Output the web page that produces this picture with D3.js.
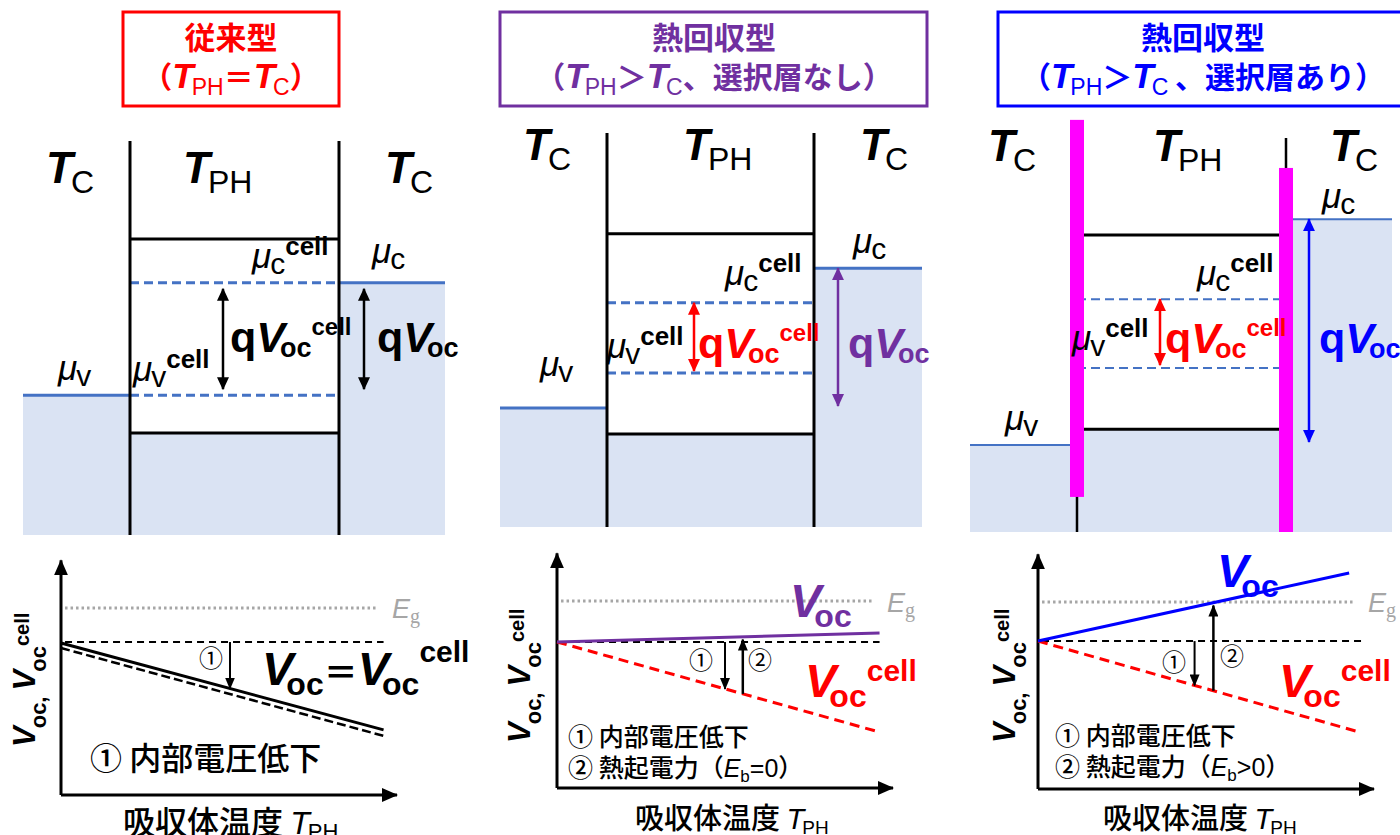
<!DOCTYPE html>
<html>
<head>
<meta charset="utf-8">
<script src="https://cdn.jsdelivr.net/npm/d3@7"></script>
<style>
  body { margin: 0; background: #fff; }
  svg { display: block; }
</style>
</head>
<body>
<div class="Diagram"></div>
<script>
/* Data */
// one entry per panel: conventional, heat recovery w/o filter, heat recovery with filter
const panelColors = ["#ff0000", "#7030a0", "#0000ff"];
const titleLine1 = ["従来型", "熱回収型", "熱回収型"];
const titleRel = ["＝", "＞", "＞"];
const titleTail = ["）", "、選択層なし）", " 、選択層あり）"];

// band diagram energies (0 = frame bottom, 100 = top of the walls)
const cbLevel = [75.1, 74.4, 75.4];
const vbLevel = [25.9, 23.6, 26.1];
const muCcell = [64.0, 56.9, 59.1];
const muVcell = [35.5, 39.1, 41.6];
const muC = [64.0, 65.7, 79.4];
const muV = [35.5, 30.2, 22.1];
// selective layers (panel 3) [bottom, top]
const filterLeft = [8.9, 104.6];
const filterRight = [0, 92.4];

// Voc vs absorber temperature (T: 0..1, voltage in units of Eg)
const egLevel = 1.0;
const egEndT = 0.94;
const baseLevel = [0.818, 0.781, 0.791];
const baseEndT = [0.96, 0.96, 0.964];
const vocStart = [0.813, 0.781, 0.791];
const vocEnd = [0.348, 0.829, 1.155];
const vocEndT = [0.96, 0.96, 0.926];
const vocCellStart = [0.786, 0.781, 0.791];
const vocCellEnd = [0.316, 0.299, 0.305];
const vocCellEndT = [0.96, 0.96, 0.955];
const arrow1T = [0.503, 0.50, 0.466];
const arrow2T = [null, 0.553, 0.522];

/* Setup */
const LATIN = "'Liberation Sans', Arial, sans-serif";
const CJK = "'Noto Sans CJK JP', sans-serif";
const SERIF = "'Liberation Serif', serif";
const width = 1400, height = 835;

const svg = d3.select(".Diagram")
    .append("svg")
    .attr("width", width)
    .attr("height", height);

const defs = svg.append("defs");
function marker(id, color, len, wid) {
    defs.append("marker")
        .attr("id", id)
        .attr("markerUnits", "userSpaceOnUse")
        .attr("viewBox", `0 0 ${len} ${wid}`)
        .attr("markerWidth", len)
        .attr("markerHeight", wid)
        .attr("refX", len - 1)
        .attr("refY", wid / 2)
        .attr("orient", "auto-start-reverse")
        .append("path")
        .attr("d", `M0,0L${len},${wid / 2}L0,${wid}Z`)
        .attr("fill", color);
}
marker("axisHead", "#000", 16, 14);
marker("smallHead", "#000", 12, 10);
const headColors = ["#000", "#ff0000", "#7030a0", "#0000ff"];
headColors.forEach((c, i) => marker("bandHead" + i, c, 13, 12));
const headId = c => "bandHead" + headColors.indexOf(c);

// text made of runs (sub/superscripts via baseline shifts)
function rich(x, y, runs, o = {}) {
    const t = svg.append("text")
        .attr("x", x)
        .attr("y", y)
        .attr("text-anchor", o.anchor || "start")
        .attr("fill", o.fill || "#000")
        .style("font-family", LATIN);
    if (o.rotate) t.attr("transform", `rotate(-90,${x},${y})`);
    let shift = 0;
    runs.filter(r => r).forEach(r => {
        const s = t.append("tspan").text(r.t).style("font-size", r.fs + "px");
        const sh = r.sh || 0;
        if (sh !== shift) s.attr("dy", sh - shift);
        shift = sh;
        if (r.dx) s.attr("dx", r.dx);
        if (r.i) s.style("font-style", "italic");
        if (r.b) s.style("font-weight", r.b === true ? "bold" : r.b);
        if (r.ff) s.style("font-family", r.ff);
        if (r.f) s.attr("fill", r.f);
    });
    return t;
}

/* Titles */
const titleBoxes = [
    { x: 123, w: 216, cx: 231 },
    { x: 500, w: 427, cx: 714 },
    { x: 998, w: 410, cx: 1203 }
];
titleBoxes.forEach((b, i) => {
    const c = panelColors[i];
    svg.append("rect")
        .attr("x", b.x).attr("y", 12)
        .attr("width", b.w).attr("height", 94)
        .attr("fill", "none")
        .attr("stroke", c)
        .attr("stroke-width", 3);
    rich(b.cx, 49, [{ t: titleLine1[i], fs: 31, b: true, ff: CJK }], { anchor: "middle", fill: c });
    rich(b.cx, 88, [
        { t: "（", fs: 30, b: true, ff: CJK },
        { t: "T", fs: 35, b: true, i: true },
        { t: "PH", fs: 23, sh: 7, dx: -2 },
        { t: titleRel[i], fs: 30, b: true, ff: CJK },
        { t: "T", fs: 35, b: true, i: true },
        { t: "C", fs: 23, sh: 7, dx: -2 },
        { t: titleTail[i], fs: 30, b: true, ff: CJK }
    ], { anchor: "middle", fill: c });
});

/* Band diagrams */
const bandLayout = [
    { xL: 23, w1: 130, w2: 339, xR: 445, bottom: 535 },
    { xL: 500, w1: 607, w2: 814, xR: 922, bottom: 527 },
    { xL: 970, w1: 1077, w2: 1286, xR: 1392, bottom: 532 }
];
const arrowColors = [["#000", "#000"], ["#ff0000", "#7030a0"], ["#ff0000", "#0000ff"]];
const arrowX = [[223, 364], [694, 838], [1160, 1309]];
const arrowPad = [[6, 6], [0, 2], [0, 3]];
const levelBlue = "#4472c4";
const fillBlue = "#dae3f3";

bandLayout.forEach((L, i) => {
    const y = d3.scaleLinear().domain([0, 100]).range([L.bottom, L.bottom - 394]);
    const g = svg.append("g");

    // shaded (occupied) regions
    const regions = [
        [L.xL, L.w1, muV[i]],
        [L.w1, L.w2, vbLevel[i]],
        [L.w2, L.xR, muC[i]]
    ];
    g.selectAll("rect.fill")
        .data(regions)
        .enter()
        .append("rect")
        .attr("x", d => d[0])
        .attr("y", d => y(d[2]))
        .attr("width", d => d[1] - d[0])
        .attr("height", d => y(0) - y(d[2]))
        .attr("fill", fillBlue);

    // band edges of the absorber
    [cbLevel[i], vbLevel[i]].forEach(v => {
        g.append("line")
            .attr("x1", L.w1).attr("x2", L.w2)
            .attr("y1", y(v)).attr("y2", y(v))
            .attr("stroke", "#000").attr("stroke-width", 3);
    });

    // quasi Fermi levels
    const lw = i === 2 ? 2 : 3;
    [muCcell[i], muVcell[i]].forEach(v => {
        g.append("line")
            .attr("x1", L.w1).attr("x2", L.w2)
            .attr("y1", y(v)).attr("y2", y(v))
            .attr("stroke", levelBlue).attr("stroke-width", lw)
            .attr("stroke-dasharray", "9,5");
    });
    g.append("line")
        .attr("x1", L.xL).attr("x2", L.w1)
        .attr("y1", y(muV[i])).attr("y2", y(muV[i]))
        .attr("stroke", levelBlue).attr("stroke-width", lw);
    g.append("line")
        .attr("x1", L.w2).attr("x2", L.xR)
        .attr("y1", y(muC[i])).attr("y2", y(muC[i]))
        .attr("stroke", levelBlue).attr("stroke-width", lw);

    // walls
    [L.w1, L.w2].forEach(x => {
        g.append("line")
            .attr("x1", x).attr("x2", x)
            .attr("y1", y(100)).attr("y2", y(0))
            .attr("stroke", "#000").attr("stroke-width", i === 2 ? 2.5 : 3);
    });
    if (i === 2) {
        [[L.w1, filterLeft], [L.w2, filterRight]].forEach(([x, f]) => {
            g.append("rect")
                .attr("x", x - 7).attr("width", 14)
                .attr("y", y(f[1]))
                .attr("height", y(f[0]) - y(f[1]))
                .attr("fill", "#ff00ff");
        });
    }

    // qVoc arrows
    const spans = [[muCcell[i], muVcell[i]], [muC[i], muV[i]]];
    spans.forEach((s, k) => {
        const c = arrowColors[i][k];
        g.append("line")
            .attr("x1", arrowX[i][k]).attr("x2", arrowX[i][k])
            .attr("y1", y(s[0]) + arrowPad[i][0])
            .attr("y2", y(s[1]) - arrowPad[i][1])
            .attr("stroke", c).attr("stroke-width", 2.5)
            .attr("marker-start", `url(#${headId(c)})`)
            .attr("marker-end", `url(#${headId(c)})`);
    });
});

// temperature labels
function tLabel(x, y, sub, fs) {
    rich(x, y, [
        { t: "T", fs: fs, i: true, b: true },
        { t: sub, fs: fs - 12, sh: 10, dx: -2 }
    ]);
}
[[46, 183, 385, 183], [523, 683, 860, 160], [988, 1153, 1330, 161]].forEach(p => {
    tLabel(p[0], p[3], "C", 44);
    tLabel(p[1], p[3], "PH", 44);
    tLabel(p[2], p[3], "C", 44);
});

// chemical potential labels
function muLabel(x, y, sub, cell) {
    rich(x, y, [
        { t: "μ", fs: 35, i: true },
        { t: sub, fs: 30, sh: 6, dx: -1 },
        cell ? { t: "cell", fs: 26, b: true, sh: -13 } : null
    ]);
}
[
    [252, 268, "c", true], [133, 381, "v", true], [372, 263, "c", false], [58, 380, "v", false],
    [725, 285, "c", true], [607, 358, "v", true], [853, 253, "c", false], [540, 376, "v", false],
    [1197, 285, "c", true], [1072, 350, "v", true], [1322, 208, "c", false], [1005, 430, "v", false]
].forEach(d => muLabel(d[0], d[1], d[2], d[3]));

// qVoc labels
function qvLabel(x, y, color, cell) {
    rich(x, y, [
        { t: "q", fs: 43, b: true },
        { t: "V", fs: 43, b: true, i: true },
        { t: "oc", fs: 27, b: true, sh: 5, dx: -5 },
        cell ? { t: "cell", fs: 24, b: true, sh: -17 } : null
    ], { fill: color });
}
qvLabel(230, 352, "#000", true);
qvLabel(377, 352, "#000", false);
qvLabel(698, 358, "#ff0000", true);
qvLabel(848, 358, "#7030a0", false);
qvLabel(1165, 353, "#ff0000", true);
qvLabel(1319, 353, "#0000ff", false);

/* Voc vs temperature graphs */
const graphLayout = [
    { x0: 61, y0: 795 },
    { x0: 557, y0: 788 },
    { x0: 1038, y0: 789 }
];
const vocColors = ["#000", "#7030a0", "#0000ff"];
const vocCellColors = ["#000", "#ff0000", "#ff0000"];

graphLayout.forEach((G, i) => {
    const x = d3.scaleLinear().domain([0, 1]).range([G.x0, G.x0 + 336]);
    const y = d3.scaleLinear().domain([0, 1]).range([G.y0, G.y0 - 187]);
    const g = svg.append("g");
    const lineGen = d3.line().x(d => x(d[0])).y(d => y(d[1]));

    // axes with arrow heads
    g.append("path")
        .attr("d", lineGen([[0, 0], [0, 1.255]]))
        .attr("stroke", "#000").attr("stroke-width", 3)
        .attr("marker-end", "url(#axisHead)");
    g.append("path")
        .attr("d", lineGen([[0, 0], [1, 0]]))
        .attr("stroke", "#000").attr("stroke-width", 3)
        .attr("marker-end", "url(#axisHead)");

    // Eg
    g.append("path")
        .attr("d", lineGen([[0.012, egLevel], [egEndT, egLevel]]))
        .attr("stroke", "#a6a6a6").attr("stroke-width", 3)
        .attr("stroke-dasharray", "2.5,3");
    // reference level at low temperature
    g.append("path")
        .attr("d", lineGen([[0.012, baseLevel[i]], [baseEndT[i], baseLevel[i]]]))
        .attr("stroke", "#000").attr("stroke-width", 2)
        .attr("stroke-dasharray", "7,5");

    // Voc cell
    g.append("path")
        .attr("d", lineGen([[0, vocCellStart[i]], [vocCellEndT[i], vocCellEnd[i]]]))
        .attr("stroke", vocCellColors[i]).attr("stroke-width", i === 0 ? 2.5 : 3)
        .attr("stroke-dasharray", i === 0 ? "9,4" : "10,6");
    // Voc
    g.append("path")
        .attr("d", lineGen([[0, vocStart[i]], [vocEndT[i], vocEnd[i]]]))
        .attr("stroke", vocColors[i]).attr("stroke-width", 3);

    // arrows 1 and 2
    const at = (v0, v1, tE, t) => v0 + (v1 - v0) * t / tE;
    const lowLine = i === 0
        ? t => at(vocStart[i], vocEnd[i], vocEndT[i], t)
        : t => at(vocCellStart[i], vocCellEnd[i], vocCellEndT[i], t);
    const t1 = arrow1T[i];
    g.append("path")
        .attr("d", lineGen([[t1, baseLevel[i]], [t1, lowLine(t1)]]))
        .attr("stroke", "#000").attr("stroke-width", 2)
        .attr("marker-end", "url(#smallHead)");
    if (arrow2T[i] !== null) {
        const t2 = arrow2T[i];
        g.append("path")
            .attr("d", lineGen([[t2, lowLine(t2)], [t2, at(vocStart[i], vocEnd[i], vocEndT[i], t2) - 0.015]]))
            .attr("stroke", "#000").attr("stroke-width", 2.5)
            .attr("marker-end", "url(#smallHead)");
    }
});

// circled numbers
[[211, 667, "①"], [701, 669, "①"], [760, 669, "②"], [1174, 671, "①"], [1232, 665, "②"]].forEach(d => {
    rich(d[0], d[1], [{ t: d[2], fs: 24, ff: CJK }], { anchor: "middle" });
});

// Eg labels
[[392, 618], [887, 612], [1368, 612]].forEach(d => {
    rich(d[0], d[1], [
        { t: "E", fs: 27, i: true, b: 500 },
        { t: "g", fs: 20, sh: 5, ff: SERIF }
    ], { fill: "#a6a6a6" });
});

// y axis labels (rotated)
[[35, 747], [530, 743], [1015, 743]].forEach(d => {
    rich(d[0], d[1], [
        { t: "V", fs: 31, b: true, i: true },
        { t: "oc", fs: 22, b: true, sh: 11, dx: -2 },
        { t: ",  ", fs: 22, b: true, sh: 11 },
        { t: "V", fs: 31, b: true, i: true },
        { t: "oc", fs: 22, b: true, sh: 11, dx: -2 },
        { t: "cell", fs: 20, b: true, sh: -6 }
    ], { rotate: true });
});

// Voc labels
function vLabel(x, y, color, cell, cellShift) {
    rich(x, y, [
        { t: "V", fs: 47, b: true, i: true },
        { t: "oc", fs: 32, b: true, sh: 10, dx: -7 },
        cell ? { t: "cell", fs: 30, b: true, sh: cellShift } : null
    ], { fill: color });
}
rich(262, 685, [
    { t: "V", fs: 47, b: true, i: true },
    { t: "oc", fs: 32, b: true, sh: 10, dx: -7 },
    { t: "＝", fs: 34, b: true, ff: CJK },
    { t: "V", fs: 47, b: true, i: true },
    { t: "oc", fs: 32, b: true, sh: 10, dx: -7 },
    { t: "cell", fs: 30, b: true, sh: -23 }
]);
vLabel(790, 617, "#7030a0", false);
vLabel(805, 697, "#ff0000", true, -16);
vLabel(1217, 587, "#0000ff", false);
vLabel(1279, 697, "#ff0000", true, -16);

// legends
rich(90, 770, [{ t: "① 内部電圧低下", fs: 32, ff: CJK, b: 500 }]);
[[568, 746, "="], [1055, 745, ">"]].forEach(d => {
    rich(d[0], d[1], [{ t: "① 内部電圧低下", fs: 25, ff: CJK, b: 500 }]);
    rich(d[0], d[1] + 31, [
        { t: "② 熱起電力（", fs: 25, ff: CJK, b: 500 },
        { t: "E", fs: 25, i: true },
        { t: "b", fs: 17, sh: 5 },
        { t: d[2] + "0", fs: 25, sh: 0 },
        { t: "）", fs: 25, ff: CJK, b: 500 }
    ]);
});

// x axis labels
[[123, 834, 32], [635, 829, 29], [1103, 829, 29]].forEach(d => {
    rich(d[0], d[1], [
        { t: "吸収体温度 ", fs: d[2], ff: CJK, b: 500 },
        { t: "T", fs: d[2], i: true },
        { t: "PH", fs: d[2] - 10, sh: 5, dx: -2 }
    ]);
});
</script>
</body>
</html>
